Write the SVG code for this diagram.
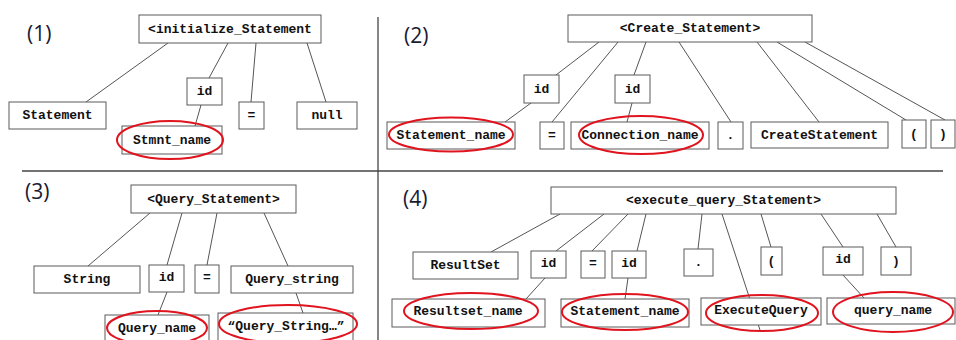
<svg xmlns="http://www.w3.org/2000/svg" width="956" height="340" viewBox="0 0 956 340">
<style>
.b{fill:#fff;stroke:#5a5a5a;stroke-width:1}
.t{font-family:"Liberation Mono","Courier New",monospace;font-weight:bold;font-size:13px;fill:#111;text-anchor:middle;dominant-baseline:central}
.c line{stroke:#555;stroke-width:1}
.e{fill:none;stroke:#e0141e;stroke-width:2}
.n{font-family:"Open Sans","Noto Sans",sans-serif;font-size:21px;fill:#1a1a33}
.d{stroke:#444;stroke-width:1.3}
</style>
<rect width="956" height="340" fill="#fff"/>
<line class="d" x1="22" y1="171" x2="943" y2="171"/>
<line class="d" x1="378" y1="17" x2="378" y2="340"/>
<text class="n" x="27" y="41">(1)</text>
<text class="n" x="404" y="43">(2)</text>
<text class="n" x="25" y="199">(3)</text>
<text class="n" x="403" y="206">(4)</text>
<g class="c" id="connectors">
<line x1="168" y1="43" x2="86" y2="102"/>
<line x1="228" y1="43" x2="209" y2="78"/>
<line x1="256" y1="43" x2="251" y2="102"/>
<line x1="307" y1="43" x2="326" y2="102"/>
<line x1="201" y1="105" x2="195" y2="126"/>
<line x1="599" y1="42" x2="556" y2="75"/>
<line x1="618" y1="42" x2="552" y2="122"/>
<line x1="646" y1="42" x2="634" y2="75"/>
<line x1="679" y1="42" x2="731" y2="122"/>
<line x1="757" y1="42" x2="819" y2="122"/>
<line x1="777" y1="42" x2="906" y2="120"/>
<line x1="805" y1="42" x2="945" y2="120"/>
<line x1="531" y1="103" x2="505" y2="122"/>
<line x1="632" y1="103" x2="627" y2="122"/>
<line x1="150" y1="213" x2="88" y2="266"/>
<line x1="182" y1="213" x2="167" y2="265"/>
<line x1="217" y1="213" x2="207" y2="265"/>
<line x1="264" y1="213" x2="288" y2="266"/>
<line x1="167" y1="292" x2="158" y2="315"/>
<line x1="296" y1="293" x2="303" y2="313"/>
<line x1="560" y1="214" x2="491" y2="252"/>
<line x1="604" y1="214" x2="556" y2="251"/>
<line x1="628" y1="214" x2="592" y2="251"/>
<line x1="646" y1="214" x2="637" y2="251"/>
<line x1="702" y1="214" x2="698" y2="249"/>
<line x1="722" y1="214" x2="760" y2="330"/>
<line x1="761" y1="214" x2="771" y2="247"/>
<line x1="821" y1="214" x2="843" y2="247"/>
<line x1="877" y1="214" x2="896" y2="247"/>
<line x1="545" y1="278" x2="526" y2="299"/>
<line x1="628" y1="278" x2="625" y2="299"/>
<line x1="843" y1="275" x2="864" y2="298"/>
</g>
<g id="q1_root"><rect class="b" x="139" y="15" width="182" height="28"/><text class="t" x="230" y="29">&lt;initialize_Statement</text></g>
<g id="q1_statement"><rect class="b" x="9" y="102" width="97" height="27"/><text class="t" x="57.5" y="115.5">Statement</text></g>
<g id="q1_id"><rect class="b" x="187" y="78" width="35" height="27"/><text class="t" x="204.5" y="91.5">id</text></g>
<g id="q1_eq"><rect class="b" x="239" y="102" width="25" height="27"/><text class="t" x="251.5" y="115.5">=</text></g>
<g id="q1_null"><rect class="b" x="297" y="102" width="60" height="27"/><text class="t" x="327" y="115.5">null</text></g>
<g id="q1_stmnt"><rect class="b" x="122" y="126" width="100" height="28"/><text class="t" x="172" y="140">Stmnt_name</text><ellipse class="e" cx="170" cy="140" rx="53" ry="19"/></g>

<g id="q2_root"><rect class="b" x="568" y="15" width="244" height="27"/><text class="t" x="690" y="28.5">&lt;Create_Statement&gt;</text></g>
<g id="q2_id1"><rect class="b" x="524" y="75" width="35" height="28"/><text class="t" x="541.5" y="89">id</text></g>
<g id="q2_id2"><rect class="b" x="615" y="75" width="35" height="28"/><text class="t" x="632.5" y="89">id</text></g>
<g id="q2_stmtname"><rect class="b" x="387" y="122" width="128" height="27"/><text class="t" x="451" y="135.5">Statement_name</text><ellipse class="e" cx="451" cy="134.5" rx="62" ry="17"/></g>
<g id="q2_eq"><rect class="b" x="540" y="122" width="24" height="27"/><text class="t" x="552" y="135.5">=</text></g>
<g id="q2_conn"><rect class="b" x="571" y="122" width="138" height="27"/><text class="t" x="640" y="135.5">Connection_name</text><ellipse class="e" cx="641" cy="135" rx="62" ry="19"/></g>
<g id="q2_dot"><rect class="b" x="718" y="122" width="25" height="27"/><text class="t" x="730.5" y="135.5">.</text></g>
<g id="q2_create"><rect class="b" x="751" y="122" width="137" height="26"/><text class="t" x="819.5" y="135">CreateStatement</text></g>
<g id="q2_lp"><rect class="b" x="902" y="120" width="24" height="28"/><text class="t" x="914" y="134">(</text></g>
<g id="q2_rp"><rect class="b" x="931" y="120" width="24" height="28"/><text class="t" x="943" y="134">)</text></g>

<g id="q3_root"><rect class="b" x="131" y="185" width="165" height="28"/><text class="t" x="213.5" y="199">&lt;Query_Statement&gt;</text></g>
<g id="q3_string"><rect class="b" x="34" y="266" width="106" height="27"/><text class="t" x="87" y="279.5">String</text></g>
<g id="q3_id"><rect class="b" x="149" y="265" width="35" height="27"/><text class="t" x="166.5" y="277">id</text></g>
<g id="q3_eq"><rect class="b" x="195" y="265" width="24" height="28"/><text class="t" x="207" y="277">=</text></g>
<g id="q3_qstring"><rect class="b" x="231" y="266" width="122" height="27"/><text class="t" x="292" y="279.5">Query_string</text></g>
<g id="q3_qname"><rect class="b" x="105" y="315" width="104" height="30"/><text class="t" x="157" y="328">Query_name</text><ellipse class="e" cx="157" cy="328" rx="50" ry="17"/></g>
<g id="q3_qstr"><rect class="b" x="218" y="313" width="135" height="32"/><text class="t" x="286" y="326">“Query_String…”</text><ellipse class="e" cx="288" cy="324" rx="69" ry="19"/></g>

<g id="q4_root"><rect class="b" x="551" y="187" width="345" height="27"/><text class="t" x="723.5" y="200.5">&lt;execute_query_Statement&gt;</text></g>
<g id="q4_resultset"><rect class="b" x="413" y="252" width="105" height="27"/><text class="t" x="465.5" y="265.5">ResultSet</text></g>
<g id="q4_id1"><rect class="b" x="531" y="251" width="35" height="27"/><text class="t" x="548.5" y="263">id</text></g>
<g id="q4_eq"><rect class="b" x="581" y="251" width="24" height="27"/><text class="t" x="593" y="263.5">=</text></g>
<g id="q4_id2"><rect class="b" x="612" y="251" width="34" height="27"/><text class="t" x="629" y="263">id</text></g>
<g id="q4_dot"><rect class="b" x="684" y="249" width="29" height="27"/><text class="t" x="698.5" y="262.5">.</text></g>
<g id="q4_lp"><rect class="b" x="761" y="247" width="21" height="28"/><text class="t" x="771.5" y="261">(</text></g>
<g id="q4_id3"><rect class="b" x="823" y="247" width="40" height="28"/><text class="t" x="843" y="259">id</text></g>
<g id="q4_rp"><rect class="b" x="881" y="247" width="30" height="28"/><text class="t" x="896" y="261">)</text></g>
<g id="q4_rsname"><rect class="b" x="392" y="299" width="153" height="28"/><text class="t" x="468" y="311">Resultset_name</text><ellipse class="e" cx="471" cy="311" rx="67" ry="18"/></g>
<g id="q4_stmtname"><rect class="b" x="561" y="299" width="128" height="28"/><text class="t" x="625" y="311">Statement_name</text><ellipse class="e" cx="625" cy="312" rx="63" ry="18"/></g>
<g id="q4_exec"><rect class="b" x="701" y="298" width="120" height="27"/><text class="t" x="761" y="310">ExecuteQuery</text><ellipse class="e" cx="762" cy="313" rx="56" ry="18"/></g>
<g id="q4_qname"><rect class="b" x="827" y="298" width="128" height="26"/><text class="t" x="893" y="310">query_name</text><ellipse class="e" cx="893" cy="312" rx="60" ry="20"/></g>
</svg>
